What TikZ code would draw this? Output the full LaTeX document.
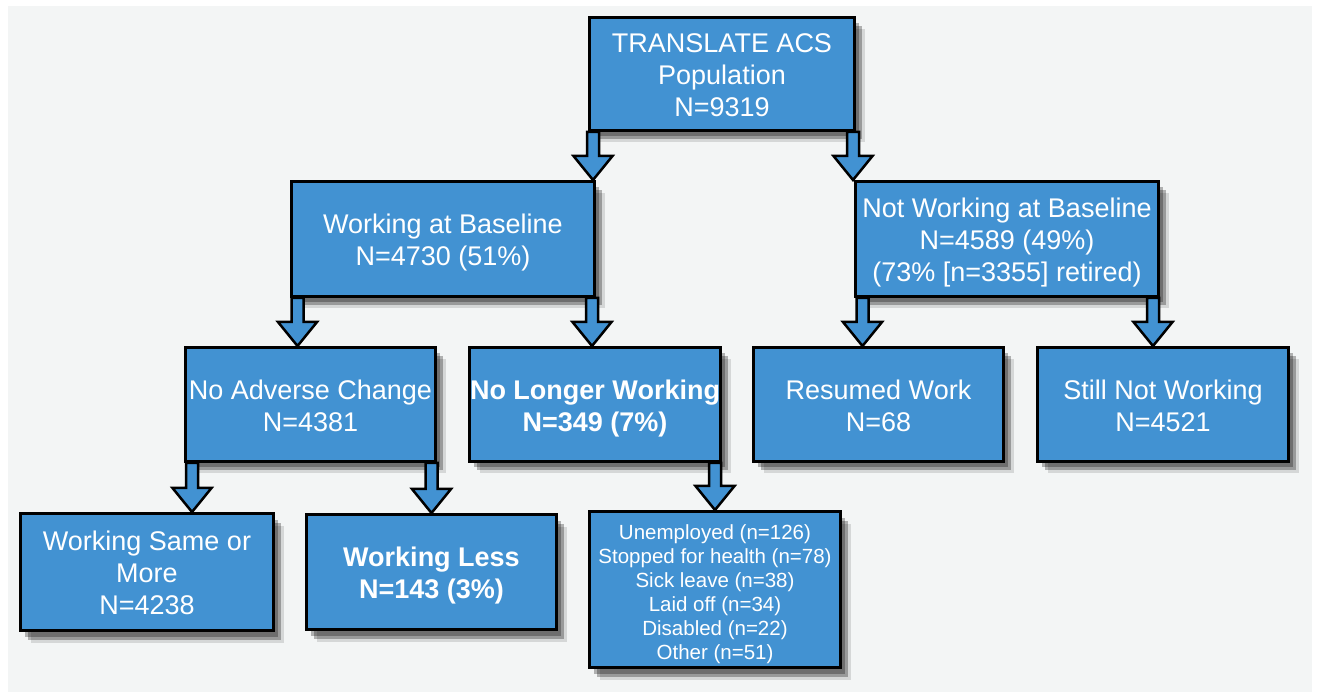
\documentclass[tikz,border=0pt]{standalone}
\usepackage{fontspec}
\setmainfont{Liberation Sans}
\usetikzlibrary{shadows,calc}
\definecolor{boxblue}{RGB}{66,146,210}
\definecolor{bggray}{RGB}{243,245,245}
\newcommand\ftop{\rule{0pt}{27.4pt}}
\newcommand\fbot{\rule[-6pt]{0pt}{6pt}}
\newcommand\smtop{\rule{0pt}{24.1pt}}
\newcommand\smbot{\rule[-4.5pt]{0pt}{4.5pt}}
\begin{document}
\begin{tikzpicture}[x=1pt,y=-1pt,
  box/.style={draw=black, line width=3pt, fill=boxblue, text=white, align=center,
    inner sep=0pt, font=\fontsize{27}{32}\selectfont,
    general shadow={shadow xshift=4pt, shadow yshift=-6pt, fill=black, opacity=0.28},
    general shadow={shadow xshift=7pt, shadow yshift=-9pt, fill=black, opacity=0.28},
    general shadow={shadow xshift=10pt, shadow yshift=-12pt, fill=black, opacity=0.12}},
  smalltext/.style={font=\fontsize{20.5}{24}\selectfont},
  blockarr/.style={draw=black, line width=2.5pt, fill=boxblue, line join=miter,
    to path={let \p1=(\tikztostart), \p2=(\tikztotarget) in
      (\x2-6pt,\y1) -- (\x2-6pt,\y2+24pt) -- (\x2-19.5pt,\y2+24pt) -- (\x2,\y2)
      -- (\x2+19.5pt,\y2+24pt) -- (\x2+6pt,\y2+24pt) -- (\x2+6pt,\y1) -- cycle}}]
\useasboundingbox (0,0) rectangle (1318,692);
\fill[white] (0,0) rectangle (1318,692);
\fill[bggray] (8,6) rectangle (1312,692);

\node[box, minimum width=265pt, minimum height=113pt] (top) at (722,74)
  {\ftop TRANSLATE ACS\\Population\\N=9319\fbot};
\node[box, minimum width=303pt, minimum height=115pt] (wab) at (443,239)
  {\ftop Working at Baseline\\N=4730 (51\%)\fbot};
\node[box, minimum width=303pt, minimum height=115pt] (nwab) at (1007,239)
  {\ftop Not Working at Baseline\\N=4589 (49\%)\\(73\% [n=3355] retired)\fbot};
\node[box, minimum width=250pt, minimum height=114pt] (nac) at (310.5,404.5)
  {\ftop No Adverse Change\\N=4381\fbot};
\node[box, minimum width=251pt, minimum height=114pt] (nlw) at (595,404.5)
  {\ftop\textbf{No Longer Working}\\\textbf{N=349 (7\%)}\fbot};
\node[box, minimum width=250pt, minimum height=114pt] (rw) at (878.5,404.5)
  {\ftop Resumed Work\\N=68\fbot};
\node[box, minimum width=251pt, minimum height=114pt] (snw) at (1163,404.5)
  {\ftop Still Not Working\\N=4521\fbot};
\node[box, minimum width=253pt, minimum height=117pt] (wsm) at (147,572)
  {\ftop Working Same or\\More\\N=4238\fbot};
\node[box, minimum width=250pt, minimum height=115pt] (wl) at (431.5,572)
  {\ftop\textbf{Working Less}\\\textbf{N=143 (3\%)}\fbot};
\node[box, smalltext, minimum width=251pt, minimum height=156pt] (reasons) at (715,589.5)
  {\smtop Unemployed (n=126)\\Stopped for health (n=78)\\Sick leave (n=38)\\Laid off (n=34)\\Disabled (n=22)\\Other (n=51)\smbot};

\draw[blockarr] (top.south) to ([xshift=-3pt]wab.north east);
\draw[blockarr] (top.south) to ([xshift=-1pt]nwab.north west);
\draw[blockarr] (wab.south) to ([xshift=-13pt]nac.north);
\draw[blockarr] (wab.south) to ([xshift=-3pt]nlw.north);
\draw[blockarr] (nwab.south) to ([xshift=-16pt]rw.north);
\draw[blockarr] (nwab.south) to ([xshift=-10pt]snw.north);
\draw[blockarr] (nac.south) to ([xshift=45pt]wsm.north);
\draw[blockarr] (nac.south) to (wl.north);
\draw[blockarr] (nlw.south) to (reasons.north);
\end{tikzpicture}
\end{document}
